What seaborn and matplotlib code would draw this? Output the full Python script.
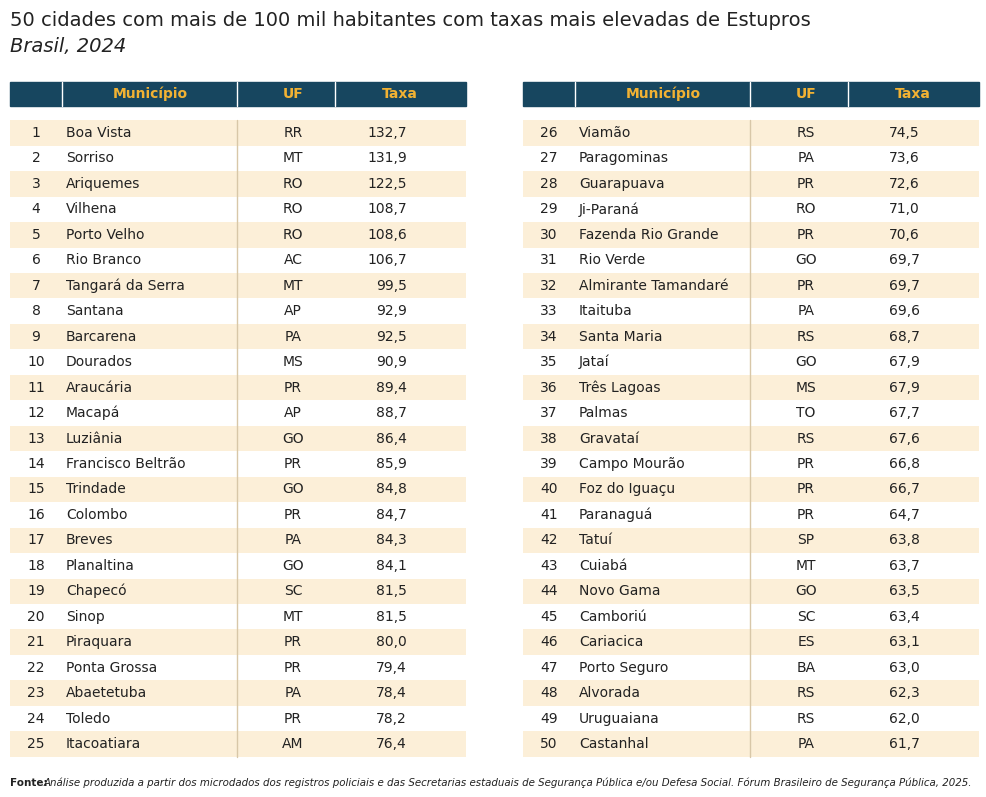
import matplotlib
matplotlib.use("Agg")
import matplotlib.pyplot as plt
import seaborn as sns
from matplotlib.patches import Rectangle

sns.set_style("white")
plt.rcParams['font.family'] = ['Liberation Sans Narrow', 'DejaVu Sans']

municipios = ["Boa Vista","Sorriso","Ariquemes","Vilhena","Porto Velho","Rio Branco","Tangará da Serra",
    "Santana","Barcarena","Dourados","Araucária","Macapá","Luziânia","Francisco Beltrão","Trindade","Colombo",
    "Breves","Planaltina","Chapecó","Sinop","Piraquara","Ponta Grossa","Abaetetuba","Toledo","Itacoatiara",
    "Viamão","Paragominas","Guarapuava","Ji-Paraná","Fazenda Rio Grande","Rio Verde","Almirante Tamandaré",
    "Itaituba","Santa Maria","Jataí","Três Lagoas","Palmas","Gravataí","Campo Mourão","Foz do Iguaçu",
    "Paranaguá","Tatuí","Cuiabá","Novo Gama","Camboriú","Cariacica","Porto Seguro","Alvorada","Uruguaiana","Castanhal"]
ufs = ["RR","MT","RO","RO","RO","AC","MT","AP","PA","MS","PR","AP","GO","PR","GO","PR","PA","GO","SC","MT",
    "PR","PR","PA","PR","AM","RS","PA","PR","RO","PR","GO","PR","PA","RS","GO","MS","TO","RS","PR","PR",
    "PR","SP","MT","GO","SC","ES","BA","RS","RS","PA"]
taxas = [132.7,131.9,122.5,108.7,108.6,106.7,99.5,92.9,92.5,90.9,89.4,88.7,86.4,85.9,84.8,84.7,84.3,84.1,81.5,81.5,
    80.0,79.4,78.4,78.2,76.4,74.5,73.6,72.6,71.0,70.6,69.7,69.7,69.6,68.7,67.9,67.9,67.7,67.6,66.8,66.7,
    64.7,63.8,63.7,63.5,63.4,63.1,63.0,62.3,62.0,61.7]
headers = ["Município", "UF", "Taxa"]

W, H = 987, 797
fig = plt.figure(figsize=(W/100, H/100), dpi=100)
ax = fig.add_axes([0, 0, 1, 1])
ax.set_xlim(0, W); ax.set_ylim(H, 0); ax.axis("off")

dark = "#17465f"; gold = "#f2b233"; beige = "#fcefd8"; sep = "#d8c7a8"
fs = 10
fig.text(10/W, 1-20/H, "50 cidades com mais de 100 mil habitantes com taxas mais elevadas de Estupros",
         fontsize=14, va="center", color="#222")
fig.text(10/W, 1-46/H, "Brasil, 2024", fontsize=14, style="italic", va="center", color="#222")

step = (744-133)/24
for t, x0 in enumerate([10, 523]):
    w = 456
    ax.add_patch(Rectangle((x0, 82), w, 24, color=dark))
    for sx in [52, 227, 325]:
        ax.plot([x0+sx, x0+sx], [82, 106], color="white", lw=1)
    ax.text(x0+140, 94, headers[0], color=gold, ha="center", va="center", fontsize=fs, weight="bold")
    ax.text(x0+283, 94, headers[1], color=gold, ha="center", va="center", fontsize=fs, weight="bold")
    ax.text(x0+390, 94, headers[2], color=gold, ha="center", va="center", fontsize=fs, weight="bold")
    for r in range(25):
        i = t*25 + r
        y = 133 + r*step
        if r % 2 == 0:
            ax.add_patch(Rectangle((x0, y-step/2), w, step, color=beige, lw=0))
        ax.text(x0+26, y, str(i+1), ha="center", va="center", fontsize=fs, color="#222")
        ax.text(x0+56, y, municipios[i], ha="left", va="center", fontsize=fs, color="#222")
        ax.text(x0+283, y, ufs[i], ha="center", va="center", fontsize=fs, color="#222")
        ax.text(x0+397, y, f"{taxas[i]:.1f}".replace(".", ","), ha="right", va="center", fontsize=fs, color="#222")
    ax.plot([x0+227, x0+227], [120, 757], color=sep, lw=1)

fig.text(10/W, 1-783/H, "Fonte:", fontsize=7.5, weight="bold", va="center", color="#222")
fig.text(44/W, 1-783/H, "Análise produzida a partir dos microdados dos registros policiais e das Secretarias estaduais de Segurança Pública e/ou Defesa Social. Fórum Brasileiro de Segurança Pública, 2025.",
         fontsize=7.4, style="italic", va="center", color="#222")
fig.savefig("out.png", dpi=100)
